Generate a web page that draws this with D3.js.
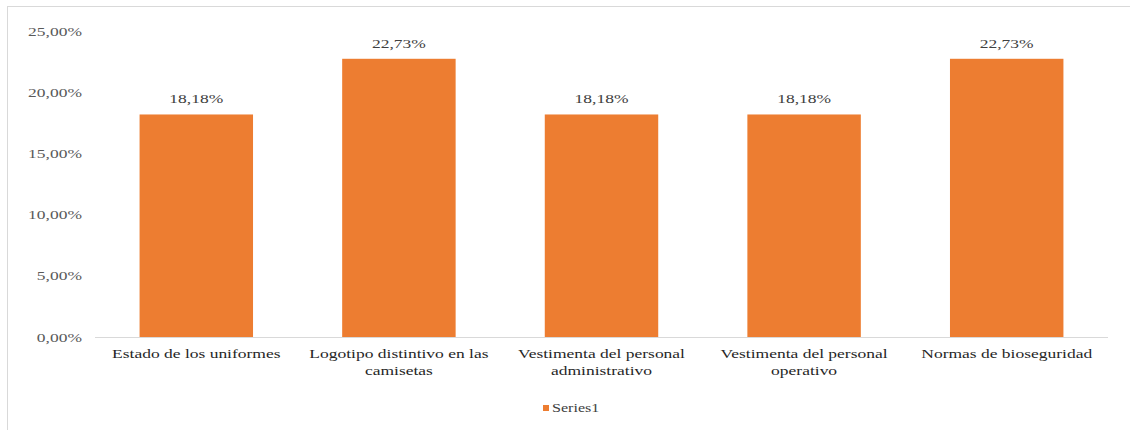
<!DOCTYPE html>
<html>
<head>
<meta charset="utf-8">
<script src="https://cdnjs.cloudflare.com/ajax/libs/d3/7.8.5/d3.min.js"></script>
<style>
  html, body { margin: 0; padding: 0; background: #ffffff; }
  svg { display: block; }
</style>
</head>
<body>
<svg id="chart" width="1130" height="430"></svg>
<script>
// Categories (each entry is the label split into its display lines)
const categories = [
  ["Estado de los uniformes"],
  ["Logotipo distintivo en las", "camisetas"],
  ["Vestimenta del personal", "administrativo"],
  ["Vestimenta del personal", "operativo"],
  ["Normas de bioseguridad"]
];
const values = [18.18, 22.73, 18.18, 18.18, 22.73];
const yTicks = [0, 5, 10, 15, 20, 25];
const seriesName = "Series1";

const barColor = "#ED7D31";
const serif = "'Liberation Serif', 'Times New Roman', Times, serif";
const stretch = 1.4; // horizontal text stretch
const fmt = v => v.toFixed(2).replace(".", ",") + "%";

const svg = d3.select("#chart");

// Outer frame
svg.append("rect")
  .attr("x", 7.5).attr("y", 6.5)
  .attr("width", 1130).attr("height", 430)
  .attr("fill", "none").attr("stroke", "#d9d9d9");

const plot = { left: 95, right: 1108, top: 31, bottom: 337 };

const x = d3.scaleBand()
  .domain(d3.range(categories.length))
  .range([plot.left, plot.right])
  .paddingInner(0.44)
  .paddingOuter(0.22);

const y = d3.scaleLinear().domain([0, 25]).range([plot.bottom, plot.top]);

// Helper for horizontally stretched text
function stretchedText(sel, tx, ty, str, anchor, size, color) {
  const g = sel.append("g").attr("transform", `translate(${tx},${ty}) scale(${stretch},1)`);
  g.append("text")
    .attr("text-anchor", anchor)
    .attr("font-family", serif)
    .attr("font-size", size)
    .attr("fill", color)
    .text(str);
  return g;
}

// Y tick labels
yTicks.forEach(t => {
  stretchedText(svg, 82, y(t) + 4.5, fmt(t), "end", 12.5, "#595959");
});

// Bars
svg.selectAll("rect.bar")
  .data(values)
  .join("rect")
  .attr("class", "bar")
  .attr("x", (d, i) => x(i))
  .attr("y", d => y(d))
  .attr("width", x.bandwidth())
  .attr("height", d => y(0) - y(d))
  .attr("fill", barColor);

// Axis baseline
svg.append("line")
  .attr("x1", plot.left).attr("x2", plot.right)
  .attr("y1", plot.bottom + 0.5).attr("y2", plot.bottom + 0.5)
  .attr("stroke", "#d9d9d9").attr("stroke-width", 1);

// Value labels
values.forEach((v, i) => {
  stretchedText(svg, x(i) + x.bandwidth() / 2, y(v) - 11, fmt(v), "middle", 12.5, "#404040");
});

// Category labels
categories.forEach((lines, i) => {
  lines.forEach((ln, k) => {
    stretchedText(svg, x(i) + x.bandwidth() / 2, 358 + k * 17, ln, "middle", 12.5, "#262626");
  });
});

// Legend
const legend = svg.append("g");
legend.append("rect")
  .attr("x", 543).attr("y", 405)
  .attr("width", 6).attr("height", 6)
  .attr("fill", barColor);
stretchedText(legend, 552, 412, seriesName, "start", 11.5, "#404040");
</script>
</body>
</html>
